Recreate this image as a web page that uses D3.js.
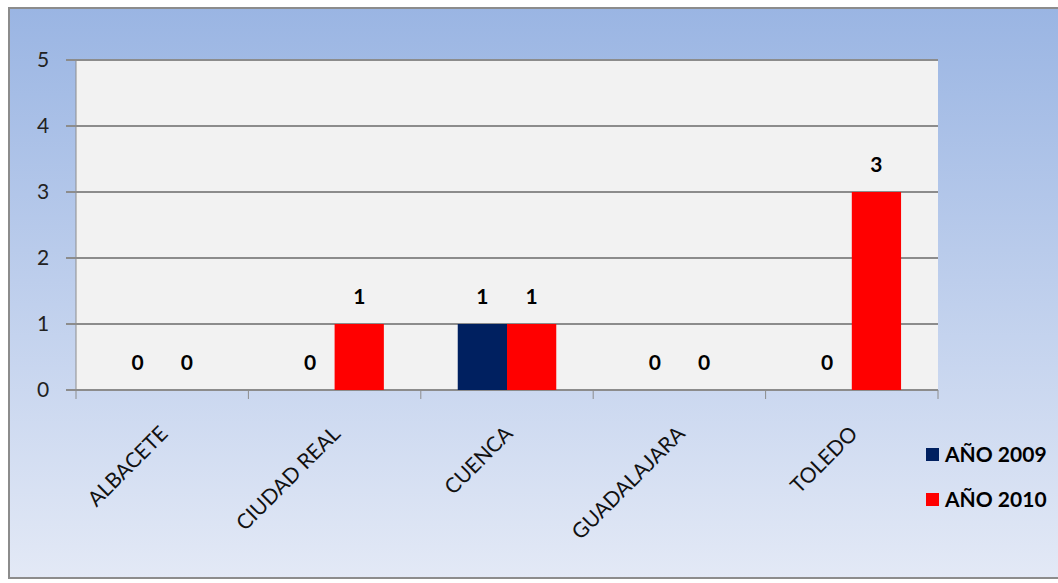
<!DOCTYPE html>
<html>
<head>
<meta charset="utf-8">
<script src="https://cdn.jsdelivr.net/npm/d3@7"></script>
<style>
  body { margin:0; background:#fff; }
  svg { display:block; font-family: Lato, "Open Sans", sans-serif; }
</style>
</head>
<body>
<svg id="viewer"></svg>
<script>
var categories = ['ALBACETE','CIUDAD REAL','CUENCA','GUADALAJARA','TOLEDO'];
var seriesNames = ['AÑO 2009','AÑO 2010'];
var values2009 = [0,0,1,0,0];
var values2010 = [0,1,1,0,3];
var yTicks = [0,1,2,3,4,5];
var colors = ['#002060','#ff0000'];

var width = 1058, height = 583;
var plot = {left:76, top:60, right:938, bottom:390};

var viewer = d3.select('#viewer')
  .attr('width',width)
  .attr('height',height);

var defs = viewer.append('defs');
var grad = defs.append('linearGradient')
  .attr('id','bg').attr('x1',0).attr('y1',0).attr('x2',0).attr('y2',1);
grad.append('stop').attr('offset','0%').attr('stop-color','#9ab5e3');
grad.append('stop').attr('offset','100%').attr('stop-color','#e3e9f6');

// chart frame
viewer.append('rect')
  .attr('x',9).attr('y',8)
  .attr('width',width+10).attr('height',570)
  .attr('fill','url(#bg)')
  .attr('stroke','#8c8c8c')
  .attr('stroke-width',2);

viewer.append('rect')
  .attr('x',plot.left).attr('y',plot.top)
  .attr('width',plot.right-plot.left).attr('height',plot.bottom-plot.top)
  .attr('fill','#f2f2f2');

var x = d3.scaleBand().domain(categories).range([plot.left,plot.right]);
var group = x.bandwidth()/1.75;
var xs = d3.scaleBand().domain([0,1]).range([0,group]);
var y = d3.scaleLinear().domain([0,5]).range([plot.bottom,plot.top]);

// gridlines
viewer.append('g').selectAll('line')
  .data(yTicks)
  .enter().append('line')
    .attr('x1',plot.left-10).attr('x2',plot.right)
    .attr('y1',function(d){return y(d);})
    .attr('y2',function(d){return y(d);})
    .attr('stroke','#8c8c8c')
    .attr('stroke-width',2);

// y axis line
viewer.append('line')
  .attr('x1',plot.left).attr('x2',plot.left)
  .attr('y1',plot.top).attr('y2',plot.bottom)
  .attr('stroke','#8c8c8c').attr('stroke-width',1);

viewer.append('g').selectAll('text')
  .data(yTicks)
  .enter().append('text')
    .attr('x',43)
    .attr('y',function(d){return y(d);})
    .attr('dy','0.35em')
    .attr('text-anchor','middle')
    .attr('font-size',21)
    .attr('fill','#222')
    .text(function(d){return d;});

// category ticks
var catTicks = categories.map(function(c){return x(c);}).concat([plot.right]);
viewer.append('g').selectAll('line')
  .data(catTicks)
  .enter().append('line')
    .attr('x1',function(d){return d;}).attr('x2',function(d){return d;})
    .attr('y1',plot.bottom).attr('y2',plot.bottom+9)
    .attr('stroke','#8c8c8c').attr('stroke-width',1);

viewer.append('g').selectAll('text')
  .data(categories)
  .enter().append('text')
    .attr('transform',function(d){
      return 'translate('+(x(d)+x.bandwidth()/2+7)+','+435+') rotate(-45)';
    })
    .attr('text-anchor','end')
    .attr('font-size',21)
    .attr('fill','#111')
    .text(function(d){return d;});

// bars
var series = [values2009, values2010];
series.forEach(function(vals, si){
  var g = viewer.append('g');
  vals.forEach(function(v, ci){
    var bx = x(categories[ci]) + (x.bandwidth()-group)/2 + xs(si);
    if (v > 0) {
      g.append('rect')
        .attr('x',bx).attr('y',y(v))
        .attr('width',xs.bandwidth()).attr('height',y(0)-y(v))
        .attr('fill',colors[si]);
    }
    g.append('text')
      .attr('x',bx+xs.bandwidth()/2)
      .attr('y',y(v)-27)
      .attr('dy','0.35em')
      .attr('text-anchor','middle')
      .attr('font-size',21)
      .attr('font-weight','bold')
      .attr('fill','#000')
      .text(v);
  });
});

// legend
var legend = viewer.append('g').selectAll('g')
  .data(seriesNames)
  .enter().append('g')
    .attr('transform',function(d,i){return 'translate(926,'+(448+i*45)+')';});
legend.append('rect')
  .attr('width',13).attr('height',13)
  .attr('fill',function(d,i){return colors[i];});
legend.append('text')
  .attr('x',19).attr('y',7)
  .attr('dy','0.35em')
  .attr('font-size',21)
  .attr('font-weight','bold')
  .attr('fill','#000')
  .text(function(d){return d;});
</script>
</body>
</html>
